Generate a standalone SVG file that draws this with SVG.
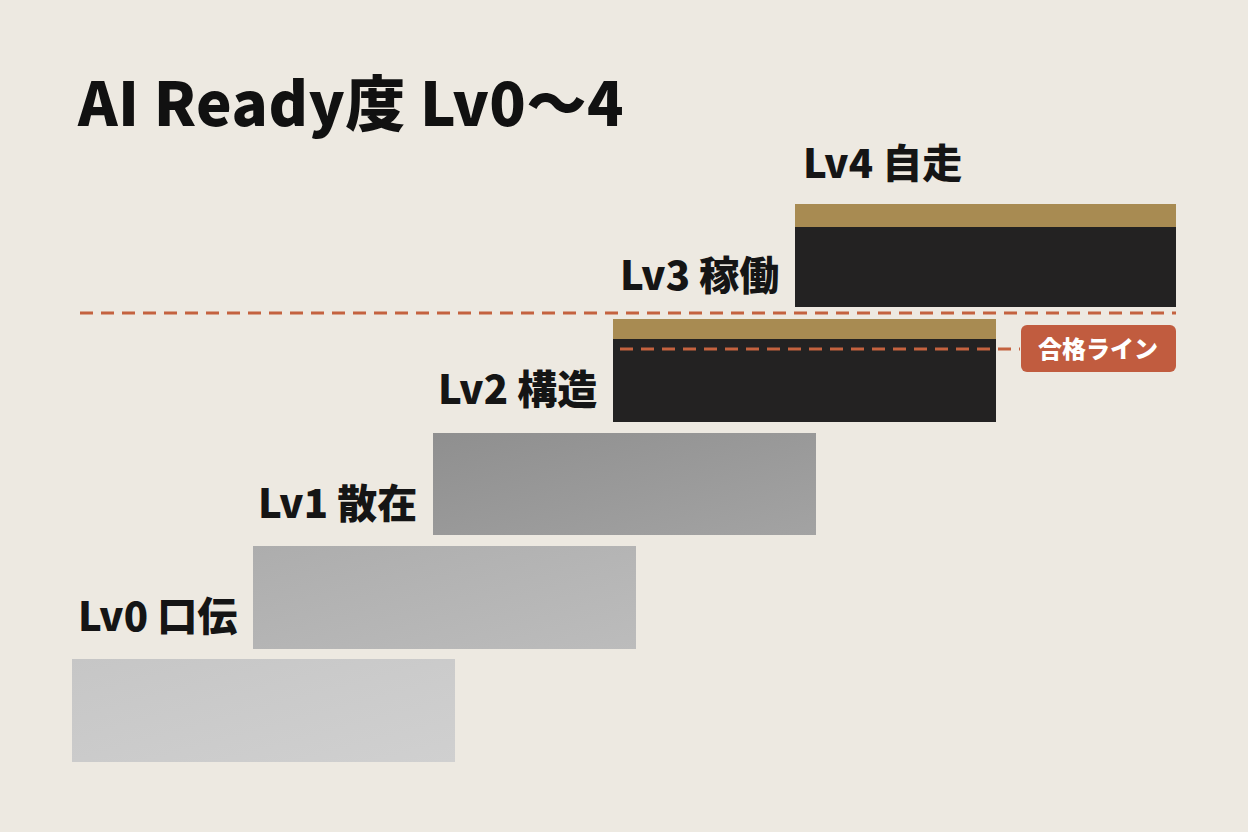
<svg xmlns="http://www.w3.org/2000/svg" width="1248" height="832" viewBox="0 0 1248 832">
<style>
.lbl{font-family:"Noto Sans CJK JP","Noto Sans",sans-serif;font-weight:900;font-size:40px;fill:#151515}
.gold{fill:#a88b52}
.dark{fill:#232222}
.dash{stroke:#c4623f;stroke-width:3;stroke-dasharray:13 8;fill:none}
</style>
<defs>
<linearGradient id="g2" x1="0" y1="0" x2="1" y2="1"><stop offset="0" stop-color="#8f8f8f"/><stop offset="1" stop-color="#a3a3a3"/></linearGradient>
<linearGradient id="g1" x1="0" y1="0" x2="1" y2="1"><stop offset="0" stop-color="#adadad"/><stop offset="1" stop-color="#bcbcbc"/></linearGradient>
<linearGradient id="g0" x1="0" y1="0" x2="1" y2="1"><stop offset="0" stop-color="#c6c6c6"/><stop offset="1" stop-color="#d0d0d0"/></linearGradient>
</defs>
<rect width="1248" height="832" fill="#ede9e1"/>
<text x="78" y="126" font-family="Noto Sans CJK JP,Noto Sans,sans-serif" font-weight="900" font-size="60" letter-spacing="0.5" fill="#111">AI Ready度 Lv0〜4</text>
<g id="lv0"><rect x="72" y="659" width="383" height="103" fill="url(#g0)"/><text class="lbl" x="78" y="631">Lv0 口伝</text></g>
<g id="lv1"><rect x="253" y="546" width="383" height="103" fill="url(#g1)"/><text class="lbl" x="258" y="518">Lv1 散在</text></g>
<g id="lv2"><rect x="433" y="433" width="383" height="102" fill="url(#g2)"/><text class="lbl" x="438" y="404">Lv2 構造</text></g>
<g id="lv3"><rect class="dark" x="613" y="319" width="383" height="103"/><rect class="gold" x="613" y="319" width="383" height="20"/><text class="lbl" x="620" y="290">Lv3 稼働</text></g>
<g id="lv4"><rect class="dark" x="795" y="204" width="381" height="103"/><rect class="gold" x="795" y="204" width="381" height="23"/><text class="lbl" x="803" y="178">Lv4 自走</text></g>
<g id="connectors">
<line class="dash" x1="80" y1="313" x2="1176" y2="313"/>
<line class="dash" x1="620" y1="349" x2="1020" y2="349"/>
</g>
<g id="badge"><rect x="1021" y="325" width="155" height="47" rx="6" fill="#c15c3f"/><text x="1098" y="358" text-anchor="middle" font-family="Noto Sans CJK JP,sans-serif" font-weight="900" font-size="24" fill="#fff">合格ライン</text></g>
</svg>
